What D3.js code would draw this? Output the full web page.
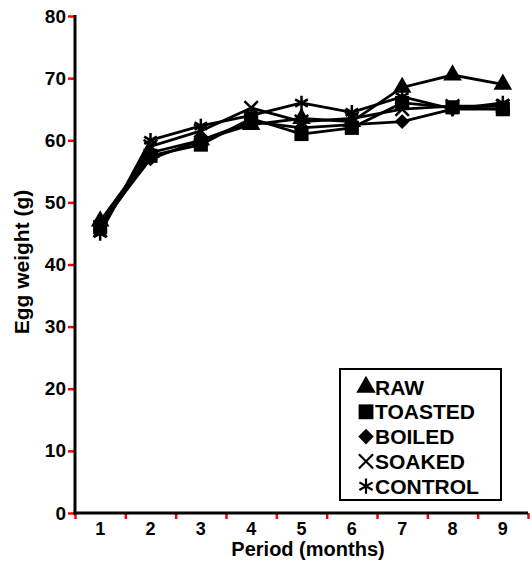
<!DOCTYPE html>
<html>
<head>
<meta charset="utf-8">
<script src="https://cdn.jsdelivr.net/npm/d3@7"></script>
<style>
  body { margin: 0; background: #fff; }
  text { font-family: "Liberation Sans", Arial, sans-serif; font-weight: bold; }
</style>
</head>
<body>
<div id="vis-container"></div>
<script>
const width = 530;
const height = 565;
const margin = { top: 16, right: 2, bottom: 52, left: 75 };

// data
const months = [1, 2, 3, 4, 5, 6, 7, 8, 9];
const raw     = [47,   58,   60,   62.5, 63.5, 63,   68.5, 70.5, 69];
const toasted = [46,   57.5, 59.3, 63.5, 61,   62,   66,   65.3, 65];
const boiled  = [46.5, 57,   60,   63,   62,   62.5, 63,   65,   65];
const soaked  = [45.5, 59,   61.5, 65.2, 63,   63.5, 65,   65.5, 65.5];
const control = [45,   60,   62.3, 64,   66,   64.5, 67,   65,   66];
const yTicks = [0, 10, 20, 30, 40, 50, 60, 70, 80];

const seriesNames = ["RAW", "TOASTED", "BOILED", "SOAKED", "CONTROL"];
const seriesValues = [raw, toasted, boiled, soaked, control];
const symbolTypes = [d3.symbolTriangle, d3.symbolSquare, d3.symbolSquare, d3.symbolTimes, d3.symbolAsterisk];
const symbolSizes = [150, 200, 110, 120, 150];
const symbolRotate = [0, 0, 45, 0, 0];
const filled = [true, true, true, false, false];

const svg = d3.select("#vis-container")
  .append("svg")
  .attr("width", width)
  .attr("height", height);

const x = d3.scaleBand()
  .domain(months)
  .range([margin.left, width - margin.right])
  .padding(0);

const xEdge = d3.scaleLinear()
  .domain([0.5, 9.5])
  .range([margin.left, width - margin.right]);

const y = d3.scaleLinear()
  .domain([0, 80])
  .range([height - margin.bottom, margin.top]);

const cx = (m) => x(m) + x.bandwidth() / 2;

// lines + markers
const line = d3.line()
  .x((d, i) => cx(months[i]))
  .y((d) => y(d));

seriesValues.forEach((vals, s) => {
  svg.append("path")
    .datum(vals)
    .attr("fill", "none")
    .attr("stroke", "black")
    .attr("stroke-width", 2.8)
    .attr("d", line);
});

seriesValues.forEach((vals, s) => {
  svg.selectAll(".m" + s)
    .data(vals)
    .enter()
    .append("path")
    .attr("class", "m" + s)
    .attr("transform", (d, i) => `translate(${cx(months[i])},${y(d)}) rotate(${symbolRotate[s]})`)
    .attr("d", d3.symbol().type(symbolTypes[s]).size(symbolSizes[s]))
    .attr("fill", filled[s] ? "black" : "none")
    .attr("stroke", "black")
    .attr("stroke-width", filled[s] ? 0 : 2.5);
});

// x axis: red edge ticks
svg.append("g")
  .attr("transform", `translate(0,${height - margin.bottom})`)
  .call(d3.axisBottom(xEdge).tickValues(d3.range(0.5, 10, 1)).tickFormat("").tickSize(6).tickSizeOuter(0))
  .call((g) => g.select(".domain").remove())
  .call((g) => g.selectAll(".tick line").attr("stroke", "red").attr("stroke-width", 2.5));

// x axis labels
svg.append("g")
  .attr("transform", `translate(0,${height - margin.bottom})`)
  .call(d3.axisBottom(x).tickSize(0).tickPadding(9))
  .call((g) => g.select(".domain").remove())
  .call((g) => g.selectAll(".tick text").attr("font-size", "18px").attr("fill", "black"));

// y axis
svg.append("g")
  .attr("transform", `translate(${margin.left},0)`)
  .call(d3.axisLeft(y).tickValues(yTicks).tickSize(7).tickSizeOuter(0).tickPadding(2))
  .call((g) => g.select(".domain").remove())
  .call((g) => g.selectAll(".tick line").attr("stroke", "red").attr("stroke-width", 2.5))
  .call((g) => g.selectAll(".tick text").attr("font-size", "19px").attr("fill", "black"));

// axis lines
svg.append("line")
  .attr("x1", margin.left).attr("x2", margin.left)
  .attr("y1", y(80) - 1).attr("y2", y(0) + 1.5)
  .attr("stroke", "black").attr("stroke-width", 3);
svg.append("line")
  .attr("x1", margin.left - 1.5).attr("x2", width - margin.right)
  .attr("y1", y(0)).attr("y2", y(0))
  .attr("stroke", "black").attr("stroke-width", 3);

// axis titles
svg.append("text")
  .attr("x", 308)
  .attr("y", 556)
  .attr("text-anchor", "middle")
  .attr("font-size", "20px")
  .text("Period (months)");

svg.append("text")
  .attr("transform", `translate(29,262) rotate(-90)`)
  .attr("text-anchor", "middle")
  .attr("font-size", "21px")
  .text("Egg weight (g)");

// legend
const legend = svg.append("g").attr("transform", "translate(340,369)");
legend.append("rect")
  .attr("width", 161)
  .attr("height", 131)
  .attr("fill", "white")
  .attr("stroke", "black")
  .attr("stroke-width", 2);

seriesNames.forEach((name, s) => {
  const row = legend.append("g").attr("transform", `translate(0,${18 + s * 24.8})`);
  row.append("path")
    .attr("transform", `translate(26,0) rotate(${symbolRotate[s]})`)
    .attr("d", d3.symbol().type(symbolTypes[s]).size(symbolSizes[s] * 1.1))
    .attr("fill", filled[s] ? "black" : "none")
    .attr("stroke", "black")
    .attr("stroke-width", filled[s] ? 0 : 2.2);
  row.append("text")
    .attr("x", 35)
    .attr("y", 7.5)
    .attr("font-size", "21px")
    .text(name);
});
</script>
</body>
</html>
